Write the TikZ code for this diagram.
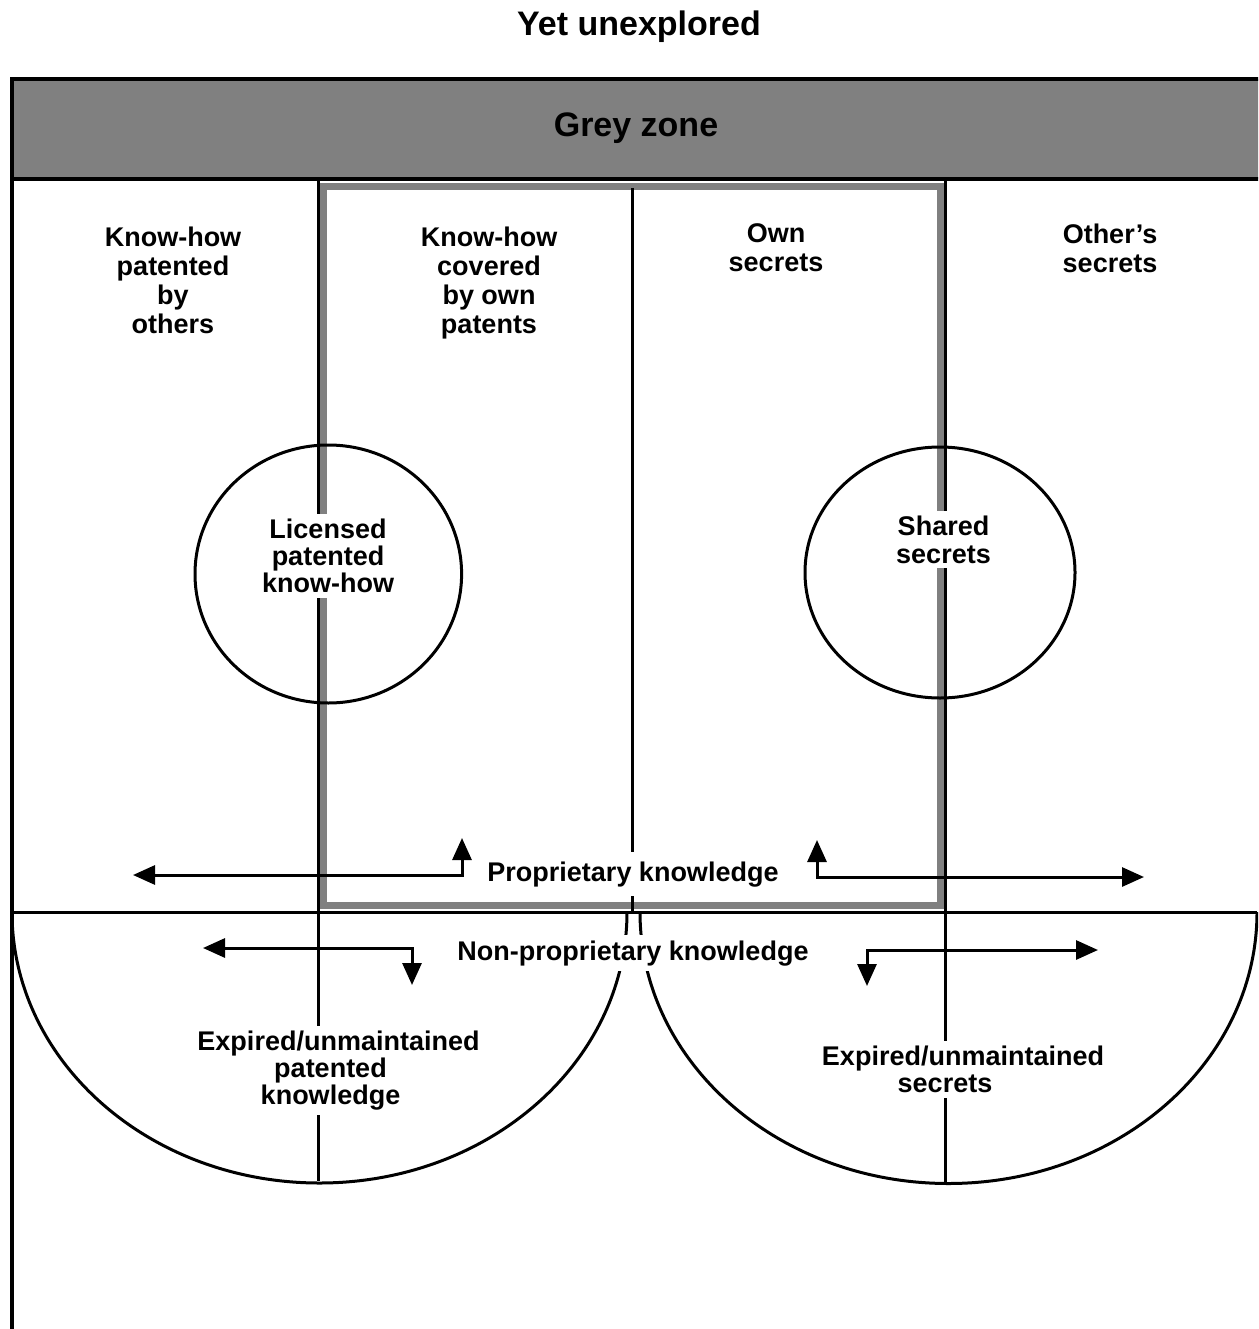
\documentclass[tikz,border=0pt]{standalone}
\usepackage{fontspec}
\setmainfont{Liberation Sans}
\usetikzlibrary{arrows.meta}
\definecolor{zgray}{RGB}{128,128,128}
\begin{document}
\begin{tikzpicture}[x=1pt,y=-1pt,
  lbl/.style={align=center, fill=white, inner sep=5pt},
  fnt/.style={font=\bfseries\fontsize{27}{#1}\selectfont},
  blk/.style={line width=3pt, draw=black},
  frm/.style={line width=4pt, draw=black},
  gry/.style={line width=7pt, draw=zgray},
  arr/.style={line width=3pt, draw=black, {Triangle[length=22pt,width=19pt]}-{Triangle[length=22pt,width=19pt]}},
]
\useasboundingbox (0,0) rectangle (1258,1329);
\clip (0,0) rectangle (1258,1329);

% grey zone band and frame
\fill[zgray] (11.5,79) rectangle (1262,179);
\draw[frm] (1262,79) -- (11.5,79) -- (11.5,1340);
\draw[frm] (11.5,179) -- (1262,179);

% grey rectangle (own)
\draw[gry] (323,187) rectangle (940,905.5);

% black dividing lines
\draw[blk] (318,179) -- (318,1181);
\draw[blk] (945,179) -- (945,1183);
\draw[blk] (632,188) -- (632,913);
\draw[blk] (11.5,912) -- (1257,912);

% half ellipses
\draw[blk] (627,912) arc[start angle=0,end angle=180,x radius=307.5,y radius=271];
\draw[blk] (1257,912) arc[start angle=0,end angle=180,x radius=308.5,y radius=271.5];

% circles
\draw[blk] (328.3,574) ellipse[x radius=133.3, y radius=129];
\draw[blk] (940,572.5) ellipse[x radius=135, y radius=125.5];

% arrows
\coordinate (a1s) at (462,838); \coordinate (a1c) at (462,875); \coordinate (a1e) at (133,875);
\coordinate (a2s) at (817,840); \coordinate (a2c) at (817,877); \coordinate (a2e) at (1144,877);
\coordinate (a3s) at (203,948); \coordinate (a3c) at (412,948); \coordinate (a3e) at (412,985);
\coordinate (a4s) at (867,986); \coordinate (a4c) at (867,950); \coordinate (a4e) at (1098,950);
\draw[arr] (a1s) -- (a1c) -- (a1e);
\draw[arr] (a2s) -- (a2c) -- (a2e);
\draw[arr] (a3s) -- (a3c) -- (a3e);
\draw[arr] (a4s) -- (a4c) -- (a4e);

% texts
\node[anchor=base, font=\bfseries\fontsize{34}{36}\selectfont] (title) at (639,36) {Yet unexplored};
\node[anchor=base, font=\bfseries\fontsize{34}{36}\selectfont] (grey) at (636,137) {Grey zone};

\node[lbl, fnt=29] (kpo) at (173,280) {Know-how\\patented\\by\\others};
\node[lbl, fnt=29] (kco) at (489,283) {Know-how\\covered\\by own\\patents};
\node[lbl, fnt=29] (own) at (776,248) {Own\\secrets};
\node[lbl, fnt=29] (oth) at (1110,248) {Other’s\\secrets};
\node[lbl, fnt=27] (lic) at (328,556) {Licensed\\patented\\know-how};
\node[lbl, fnt=28] (shr) at (943.5,539.5) {Shared\\secrets};
\node[lbl, fnt=29, anchor=base, inner ysep=9pt] (prop) at (633,881) {Proprietary knowledge};
\node[lbl, fnt=29, anchor=base] (nprop) at (633,960) {Non-proprietary knowledge};
\node[lbl, fnt=27] (expp) at (338.5,1070.5) {Expired/unmaintained\\patented\rule{16pt}{0pt}\\knowledge\rule{16pt}{0pt}};
\node[lbl, fnt=27] (exps) at (963,1069.5) {Expired/unmaintained\\secrets\rule{36pt}{0pt}};
\end{tikzpicture}
\end{document}
